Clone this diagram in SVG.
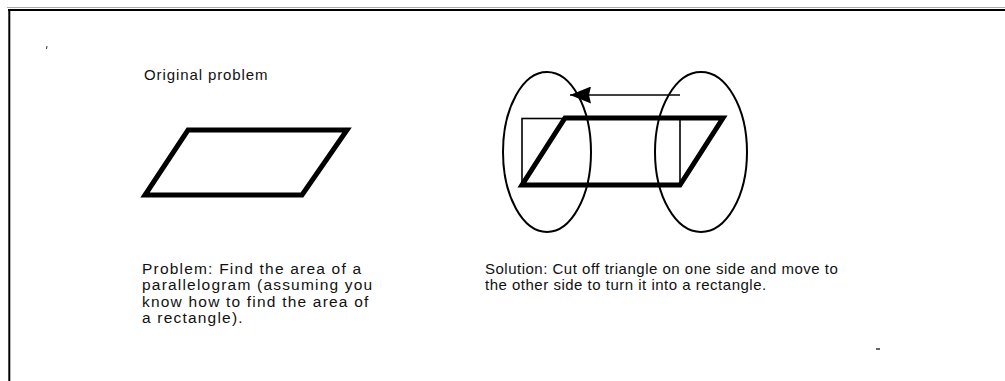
<svg xmlns="http://www.w3.org/2000/svg" width="1005" height="381" viewBox="0 0 1005 381">
<style>
text{font-family:"Liberation Sans",Arial,sans-serif;font-size:15px;fill:#111;letter-spacing:0.5px}
.wide{font-size:15.5px;letter-spacing:1.2px}
.thick{fill:none;stroke:#000;stroke-width:5;stroke-linejoin:miter}
.thin{fill:none;stroke:#000;stroke-width:1.6}
.ell{fill:none;stroke:#000;stroke-width:2}
</style>
<defs>
<marker id="ah" markerWidth="21" markerHeight="17" refX="21" refY="8.5" orient="auto" markerUnits="userSpaceOnUse" viewBox="0 0 21 17">
<path d="M21,8.5 L0,0 L2,8.5 L0,17 Z" fill="#000"/>
</marker>
</defs>
<rect width="1005" height="381" fill="#fff"/>
<g id="frame">
<line x1="7" y1="7.5" x2="1005" y2="7.5" stroke="#aaa" stroke-width="1"/>
<line x1="8" y1="10" x2="1005" y2="10" stroke="#000" stroke-width="2"/>
<line x1="9.3" y1="9" x2="9.3" y2="381" stroke="#000" stroke-width="2"/>
</g>
<g id="original-label"><text x="144" y="80" style="letter-spacing:0.9px">Original problem</text></g>
<g id="parallelogram"><polygon class="thick" points="188,130 347,130 302,195 145,195"/></g>
<g id="left-ellipse"><ellipse class="ell" cx="547" cy="152" rx="44" ry="80"/></g>
<g id="right-ellipse"><ellipse class="ell" cx="701" cy="152" rx="46" ry="80"/></g>
<g id="rectangle"><rect class="thin" x="522" y="118.5" width="158" height="66"/></g>
<g id="moved-parallelogram"><polygon class="thick" points="565,118 723,118 680,185 522,185"/></g>
<g id="connectors">
<line x1="680" y1="95" x2="570" y2="95" stroke="#000" stroke-width="1.6" marker-end="url(#ah)"/>
</g>
<g id="problem-text">
<text class="wide" x="142" y="274">Problem: Find the area of a</text>
<text class="wide" x="142" y="290.3">parallelogram (assuming you</text>
<text class="wide" x="142" y="306.6">know how to find the area of</text>
<text class="wide" x="142" y="322.9">a rectangle).</text>
</g>
<g id="solution-text">
<text x="485" y="274">Solution: Cut off triangle on one side and move to</text>
<text x="485" y="290.3">the other side to turn it into a rectangle.</text>
</g>
<g id="marks">
<line x1="47" y1="46" x2="46.5" y2="49" stroke="#333" stroke-width="1"/>
<line x1="876" y1="349" x2="880" y2="349" stroke="#333" stroke-width="1.5"/>
</g>
</svg>
